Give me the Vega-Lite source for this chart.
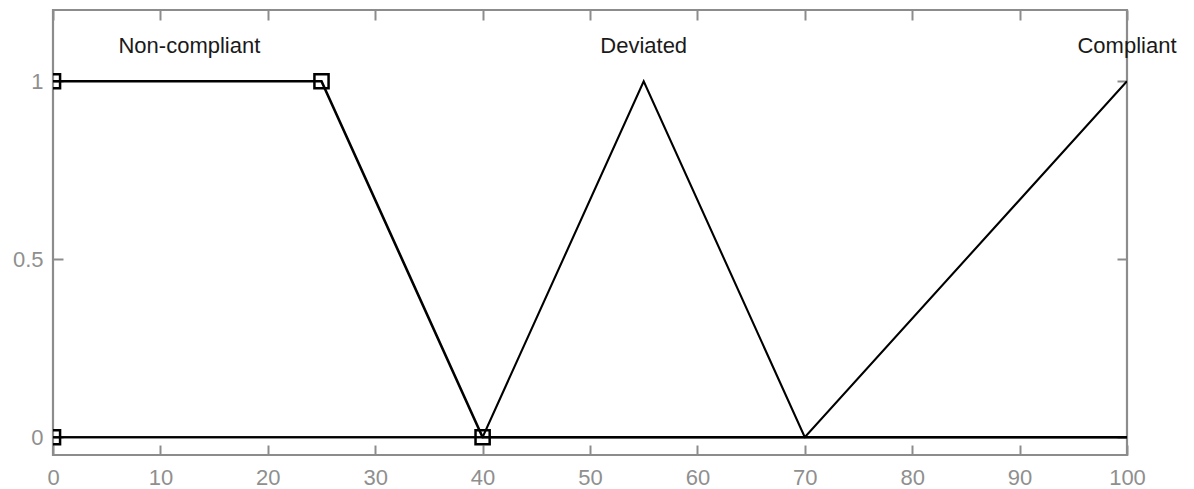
{
  "$schema": "https://vega.github.io/schema/vega-lite/v6.json",
  "width": 1074,
  "height": 445,
  "autosize": {"type": "none"},
  "padding": {"left": 53, "top": 10, "right": 67, "bottom": 34},
  "background": "white",
  "config": {
    "view": {"stroke": "#8c8c8c", "strokeWidth": 2.2},
    "axis": {
      "domain": false,
      "grid": false,
      "tickColor": "#8c8c8c",
      "tickWidth": 2,
      "tickSize": -10,
      "labelColor": "#8f8f8f",
      "labelFont": "Liberation Sans",
      "labelFontSize": 22,
      "labelFlush": false,
      "title": null
    }
  },
  "datasets": {
    "mfs": [
      {"mf": "Non-compliant", "x": 0, "y": 1, "o": 1},
      {"mf": "Non-compliant", "x": 25, "y": 1, "o": 2},
      {"mf": "Non-compliant", "x": 40, "y": 0, "o": 3},
      {"mf": "Non-compliant", "x": 100, "y": 0, "o": 4},
      {"mf": "Deviated", "x": 0, "y": 0, "o": 1},
      {"mf": "Deviated", "x": 40, "y": 0, "o": 2},
      {"mf": "Deviated", "x": 55, "y": 1, "o": 3},
      {"mf": "Deviated", "x": 70, "y": 0, "o": 4},
      {"mf": "Deviated", "x": 100, "y": 0, "o": 5},
      {"mf": "Compliant", "x": 0, "y": 0, "o": 1},
      {"mf": "Compliant", "x": 70, "y": 0, "o": 2},
      {"mf": "Compliant", "x": 100, "y": 1, "o": 3}
    ],
    "handles": [
      {"x": 0, "y": 0},
      {"x": 0, "y": 1},
      {"x": 25, "y": 1},
      {"x": 40, "y": 0}
    ],
    "labels": [
      {"x": 12.7, "y": 1.079, "text": "Non-compliant"},
      {"x": 55, "y": 1.079, "text": "Deviated"},
      {"x": 100, "y": 1.079, "text": "Compliant"}
    ]
  },
  "resolve": {"axis": {"x": "independent", "y": "independent"}},
  "layer": [
    {
      "data": {"name": "mfs"},
      "transform": [{"filter": "datum.mf !== 'Non-compliant'"}],
      "mark": {"type": "line", "color": "black", "strokeWidth": 2.1, "clip": true},
      "encoding": {
        "x": {"field": "x", "type": "quantitative", "scale": {"domain": [0, 100], "nice": false},
              "axis": {"orient": "bottom", "values": [0,10,20,30,40,50,60,70,80,90,100], "labelPadding": 22}},
        "y": {"field": "y", "type": "quantitative", "scale": {"domain": [-0.05, 1.2], "nice": false, "zero": false},
              "axis": {"orient": "left", "values": [0, 0.5, 1], "format": "~g", "labelPadding": 20}},
        "detail": {"field": "mf"},
        "order": {"field": "o"}
      }
    },
    {
      "data": {"name": "mfs"},
      "transform": [{"filter": "datum.mf === 'Non-compliant'"}],
      "mark": {"type": "line", "color": "black", "strokeWidth": 2.6, "clip": true},
      "encoding": {
        "x": {"field": "x", "type": "quantitative", "scale": {"domain": [0, 100], "nice": false},
              "axis": {"orient": "top", "values": [0,10,20,30,40,50,60,70,80,90,100], "labels": false}},
        "y": {"field": "y", "type": "quantitative", "scale": {"domain": [-0.05, 1.2], "nice": false, "zero": false},
              "axis": {"orient": "right", "values": [0, 0.5, 1], "labels": false}},
        "order": {"field": "o"}
      }
    },
    {
      "data": {"name": "handles"},
      "mark": {"type": "point", "shape": "square", "size": 200, "filled": false, "stroke": "black", "strokeWidth": 2.5, "opacity": 1, "clip": true},
      "encoding": {
        "x": {"field": "x", "type": "quantitative", "axis": null},
        "y": {"field": "y", "type": "quantitative", "axis": null}
      }
    },
    {
      "data": {"name": "labels"},
      "mark": {"type": "text", "font": "Liberation Sans", "fontSize": 22, "color": "#1a1a1a", "align": "center", "baseline": "alphabetic"},
      "encoding": {
        "x": {"field": "x", "type": "quantitative", "axis": null},
        "y": {"field": "y", "type": "quantitative", "axis": null},
        "text": {"field": "text"}
      }
    }
  ]
}
